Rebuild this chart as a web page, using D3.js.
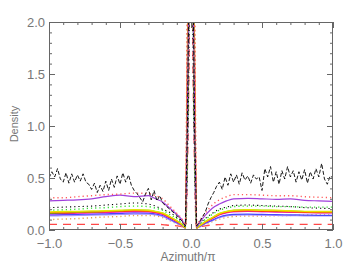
<!DOCTYPE html>
<html>
  <head>
    <title>Density vs Azimuth</title>
    <script src="https://d3js.org/d3.v7.min.js"></script>
    <style>
      body { margin: 0; background: #fff; }
      text { font-family: "Liberation Sans", Arial, sans-serif; fill: #777; }
    </style>
  </head>
  <body>
    <div id="chart"></div>
    <script>
      // azimuth grid (units of pi) shared by the smooth curves
      var azimuth = [-1, -0.9, -0.8, -0.7, -0.6, -0.5, -0.4, -0.3, -0.25, -0.2, -0.15, -0.1, -0.06, -0.04,
        -0.025, -0.01, 0, 0.01, 0.025,
        0.04, 0.06, 0.1, 0.15, 0.2, 0.25, 0.3, 0.4, 0.5, 0.6, 0.7, 0.8, 0.9, 1];

      var redDashed = [0.055, 0.055, 0.055, 0.055, 0.055, 0.055, 0.055, 0.055, 0.055, 0.052, 0.045, 0.04, 0.03, 0.02,
        0.6, 2.4, 6, 2.4, 0.6,
        0.02, 0.03, 0.04, 0.048, 0.052, 0.054, 0.055, 0.055, 0.055, 0.055, 0.055, 0.055, 0.055, 0.055];
      var tanDotted = [0.10, 0.105, 0.11, 0.118, 0.125, 0.13, 0.14, 0.14, 0.135, 0.12, 0.09, 0.06, 0.035, 0.02,
        2.2, 4.5, 6, 4.5, 2.2,
        0.02, 0.03, 0.055, 0.08, 0.105, 0.12, 0.13, 0.135, 0.135, 0.138, 0.14, 0.143, 0.145, 0.145];
      var lightPurple = [0.135, 0.137, 0.14, 0.143, 0.146, 0.15, 0.153, 0.152, 0.145, 0.13, 0.097, 0.065, 0.037, 0.02,
        0.8, 2.8, 6, 2.8, 0.8,
        0.02, 0.03, 0.06, 0.09, 0.118, 0.135, 0.142, 0.145, 0.143, 0.14, 0.138, 0.136, 0.135, 0.135];
      var blueSolid = [0.145, 0.148, 0.15, 0.153, 0.156, 0.16, 0.165, 0.163, 0.155, 0.14, 0.105, 0.07, 0.04, 0.02,
        1.0, 3.0, 6, 3.0, 1.0,
        0.02, 0.033, 0.065, 0.095, 0.125, 0.143, 0.15, 0.152, 0.15, 0.148, 0.146, 0.143, 0.141, 0.14];
      var magentaSolid = [0.155, 0.158, 0.161, 0.165, 0.168, 0.172, 0.177, 0.174, 0.165, 0.15, 0.115, 0.078, 0.043, 0.02,
        1.6, 3.6, 6, 3.6, 1.6,
        0.02, 0.036, 0.072, 0.108, 0.145, 0.165, 0.175, 0.178, 0.175, 0.172, 0.17, 0.167, 0.165, 0.164];
      var redSolid = [0.16, 0.163, 0.166, 0.17, 0.173, 0.178, 0.183, 0.18, 0.17, 0.155, 0.12, 0.082, 0.045, 0.02,
        1.3, 3.3, 6, 3.3, 1.3,
        0.02, 0.038, 0.075, 0.112, 0.15, 0.17, 0.18, 0.184, 0.18, 0.177, 0.174, 0.17, 0.168, 0.167];
      var greenSolid = [0.162, 0.166, 0.17, 0.175, 0.18, 0.186, 0.192, 0.188, 0.178, 0.162, 0.127, 0.087, 0.048, 0.02,
        0.9, 2.9, 6, 2.9, 0.9,
        0.02, 0.04, 0.08, 0.118, 0.157, 0.178, 0.19, 0.194, 0.19, 0.186, 0.182, 0.178, 0.176, 0.175];
      var orangeSolid = [0.168, 0.17, 0.172, 0.175, 0.178, 0.183, 0.188, 0.183, 0.173, 0.158, 0.125, 0.085, 0.047, 0.02,
        1.8, 4.0, 6, 4.0, 1.8,
        0.02, 0.04, 0.078, 0.115, 0.153, 0.173, 0.183, 0.188, 0.185, 0.183, 0.178, 0.173, 0.172, 0.172];
      var yellowSolid = [0.175, 0.178, 0.18, 0.183, 0.185, 0.19, 0.195, 0.19, 0.18, 0.165, 0.13, 0.09, 0.05, 0.02,
        1.1, 3.1, 6, 3.1, 1.1,
        0.02, 0.04, 0.08, 0.12, 0.16, 0.18, 0.19, 0.195, 0.19, 0.19, 0.185, 0.18, 0.18, 0.18];
      var greenDotted = [0.19, 0.195, 0.20, 0.21, 0.215, 0.225, 0.23, 0.225, 0.21, 0.19, 0.15, 0.11, 0.06, 0.03,
        1.4, 3.4, 6, 3.4, 1.4,
        0.03, 0.06, 0.10, 0.15, 0.19, 0.21, 0.225, 0.23, 0.23, 0.225, 0.225, 0.22, 0.22, 0.22];
      var blackDotted = [0.215, 0.22, 0.225, 0.23, 0.24, 0.25, 0.26, 0.25, 0.23, 0.20, 0.17, 0.12, 0.07, 0.03,
        0.7, 2.6, 6, 2.6, 0.7,
        0.03, 0.06, 0.11, 0.16, 0.20, 0.22, 0.235, 0.24, 0.235, 0.23, 0.225, 0.215, 0.21, 0.205];
      var purpleSolid = [0.28, 0.285, 0.29, 0.30, 0.32, 0.335, 0.32, 0.33, 0.30, 0.27, 0.21, 0.15, 0.09, 0.04,
        1.2, 3.2, 6, 3.2, 1.2,
        0.03, 0.07, 0.14, 0.21, 0.25, 0.28, 0.30, 0.305, 0.30, 0.295, 0.30, 0.285, 0.28, 0.275];
      var redDotted = [0.31, 0.31, 0.32, 0.33, 0.34, 0.345, 0.355, 0.35, 0.33, 0.30, 0.23, 0.16, 0.10, 0.05,
        2.4, 4.8, 6, 4.8, 2.4,
        0.05, 0.09, 0.16, 0.24, 0.29, 0.32, 0.34, 0.34, 0.335, 0.33, 0.33, 0.32, 0.315, 0.31];

      // noisy curve, [azimuth, density]
      var noisyCurve = [
        [-1.00, 0.50], [-0.98, 0.56], [-0.96, 0.51], [-0.94, 0.59], [-0.92, 0.49], [-0.90, 0.46],
        [-0.88, 0.55], [-0.86, 0.45], [-0.84, 0.54], [-0.82, 0.46], [-0.80, 0.53], [-0.78, 0.47],
        [-0.76, 0.54], [-0.74, 0.46], [-0.72, 0.44], [-0.70, 0.39], [-0.68, 0.45], [-0.66, 0.36],
        [-0.64, 0.43], [-0.62, 0.37], [-0.60, 0.47], [-0.58, 0.38], [-0.56, 0.49], [-0.54, 0.41],
        [-0.52, 0.52], [-0.50, 0.44], [-0.48, 0.55], [-0.46, 0.46], [-0.44, 0.53], [-0.42, 0.43],
        [-0.40, 0.38], [-0.38, 0.35], [-0.36, 0.31], [-0.34, 0.27], [-0.32, 0.35], [-0.30, 0.40],
        [-0.28, 0.29], [-0.26, 0.38], [-0.24, 0.28], [-0.22, 0.33], [-0.20, 0.26], [-0.15, 0.20],
        [-0.10, 0.14], [-0.06, 0.08], [-0.04, 0.04], [-0.025, 1.0], [-0.01, 3.0], [0, 6],
        [0.01, 3.0], [0.025, 1.0], [0.04, 0.04], [0.06, 0.08], [0.10, 0.17], [0.12, 0.25],
        [0.14, 0.31], [0.16, 0.36], [0.18, 0.42], [0.20, 0.46], [0.22, 0.39], [0.24, 0.51],
        [0.26, 0.43], [0.28, 0.54], [0.30, 0.46], [0.32, 0.53], [0.34, 0.44], [0.36, 0.55],
        [0.38, 0.48], [0.40, 0.52], [0.42, 0.45], [0.44, 0.53], [0.46, 0.49], [0.48, 0.51],
        [0.50, 0.38], [0.52, 0.59], [0.54, 0.51], [0.56, 0.61], [0.58, 0.46], [0.60, 0.56],
        [0.62, 0.44], [0.64, 0.57], [0.66, 0.49], [0.68, 0.61], [0.70, 0.51], [0.72, 0.57],
        [0.74, 0.46], [0.76, 0.56], [0.78, 0.48], [0.80, 0.58], [0.82, 0.45], [0.84, 0.56],
        [0.86, 0.49], [0.88, 0.59], [0.90, 0.51], [0.92, 0.64], [0.94, 0.49], [0.96, 0.44],
        [0.98, 0.52], [1.00, 0.50]
      ];

      var xMajor = [-1, -0.5, 0, 0.5, 1];
      var yMajor = [0, 0.5, 1, 1.5, 2];

      var width = 354, height = 275;
      var margin = { top: 22, right: 21, bottom: 45, left: 49 };

      var svg = d3.select("#chart")
        .append("svg")
        .attr("width", width)
        .attr("height", height);

      var xScale = d3.scaleLinear()
        .domain([-1, 1])
        .range([margin.left, width - margin.right]);

      var yScale = d3.scaleLinear()
        .domain([0, 2])
        .range([height - margin.bottom, margin.top]);

      svg.append("clipPath")
        .attr("id", "plot-clip")
        .append("rect")
        .attr("x", margin.left)
        .attr("y", margin.top)
        .attr("width", width - margin.left - margin.right)
        .attr("height", height - margin.top - margin.bottom);

      var line = d3.line()
        .x(function(d) { return xScale(d[0]); })
        .y(function(d) { return yScale(d[1]); })
        .curve(d3.curveMonotoneX);

      // back to front
      var series = [
        { values: redDashed, color: "#ff4848", dash: "8,6", w: 1.3 },
        { values: tanDotted, color: "#e0a050", dash: "1.2,3", w: 1.4 },
        { values: lightPurple, color: "#a890ff", dash: null, w: 1.2 },
        { values: blueSolid, color: "#4848ff", dash: null, w: 1.2 },
        { values: magentaSolid, color: "#ee22ee", dash: null, w: 1.2 },
        { values: redSolid, color: "#ff2020", dash: null, w: 1.2 },
        { values: greenSolid, color: "#22cc22", dash: null, w: 1.2 },
        { values: orangeSolid, color: "#ff8c00", dash: null, w: 1.2 },
        { values: yellowSolid, color: "#e6e600", dash: null, w: 1.3 },
        { values: greenDotted, color: "#30e030", dash: "1.2,3", w: 1.4 },
        { values: blackDotted, color: "#000", dash: "1.2,3", w: 1.1 },
        { values: purpleSolid, color: "#a040dc", dash: null, w: 1.2 },
        { values: redDotted, color: "#ff5a5a", dash: "1.2,3", w: 1.4 }
      ];

      var plot = svg.append("g").attr("clip-path", "url(#plot-clip)");

      series.forEach(function(s) {
        var pts = azimuth.map(function(a, i) { return [a, s.values[i]]; });
        plot.append("path")
          .datum(pts)
          .attr("d", line)
          .attr("fill", "none")
          .attr("stroke", s.color)
          .attr("stroke-width", s.w)
          .attr("stroke-dasharray", s.dash);
      });

      plot.append("path")
        .datum(noisyCurve)
        .attr("d", line.curve(d3.curveLinear))
        .attr("fill", "none")
        .attr("stroke", "#000")
        .attr("stroke-width", 0.9)
        .attr("stroke-dasharray", "4,2");

      // axes: inward ticks on all four sides
      var xMinor = d3.range(-10, 11).map(function(i) { return i / 10; });
      var yMinor = d3.range(0, 21).map(function(i) { return i / 10; });
      var fmt = d3.format(".1f");
      var bottomY = height - margin.bottom, rightX = width - margin.right;

      function styleAxis(g) {
        g.select(".domain").remove();
        g.selectAll(".tick line").attr("stroke", "#666");
        g.selectAll(".tick text").attr("fill", "#808080")
          .style("font-size", "13px")
          .style("font-family", "'Liberation Sans', Arial, sans-serif");
      }

      svg.append("g").attr("transform", "translate(0," + bottomY + ")")
        .call(d3.axisBottom(xScale).tickValues(xMinor).tickSize(-3).tickFormat("")).call(styleAxis);
      svg.append("g").attr("transform", "translate(0," + bottomY + ")")
        .call(d3.axisBottom(xScale).tickValues(xMajor).tickSize(-6).tickPadding(9).tickFormat(fmt)).call(styleAxis);
      svg.append("g").attr("transform", "translate(0," + margin.top + ")")
        .call(d3.axisTop(xScale).tickValues(xMinor).tickSize(-3).tickFormat("")).call(styleAxis);
      svg.append("g").attr("transform", "translate(0," + margin.top + ")")
        .call(d3.axisTop(xScale).tickValues(xMajor).tickSize(-6).tickFormat("")).call(styleAxis);

      svg.append("g").attr("transform", "translate(" + margin.left + ",0)")
        .call(d3.axisLeft(yScale).tickValues(yMinor).tickSize(-3).tickFormat("")).call(styleAxis);
      svg.append("g").attr("transform", "translate(" + margin.left + ",0)")
        .call(d3.axisLeft(yScale).tickValues(yMajor).tickSize(-6).tickPadding(4).tickFormat(fmt)).call(styleAxis);
      svg.append("g").attr("transform", "translate(" + rightX + ",0)")
        .call(d3.axisRight(yScale).tickValues(yMinor).tickSize(-3).tickFormat("")).call(styleAxis);
      svg.append("g").attr("transform", "translate(" + rightX + ",0)")
        .call(d3.axisRight(yScale).tickValues(yMajor).tickSize(-6).tickFormat("")).call(styleAxis);

      svg.append("rect")
        .attr("x", margin.left + 0.5)
        .attr("y", margin.top + 0.5)
        .attr("width", rightX - margin.left - 1)
        .attr("height", bottomY - margin.top - 1)
        .attr("fill", "none")
        .attr("stroke", "#666")
        .attr("stroke-width", 1);

      svg.append("text")
        .attr("x", 188)
        .attr("y", 261)
        .attr("text-anchor", "middle")
        .style("font-size", "12px")
        .text("Azimuth/π");

      svg.append("text")
        .attr("transform", "translate(18,124) rotate(-90)")
        .attr("text-anchor", "middle")
        .style("font-size", "11px")
        .text("Density");
    </script>
  </body>
</html>
